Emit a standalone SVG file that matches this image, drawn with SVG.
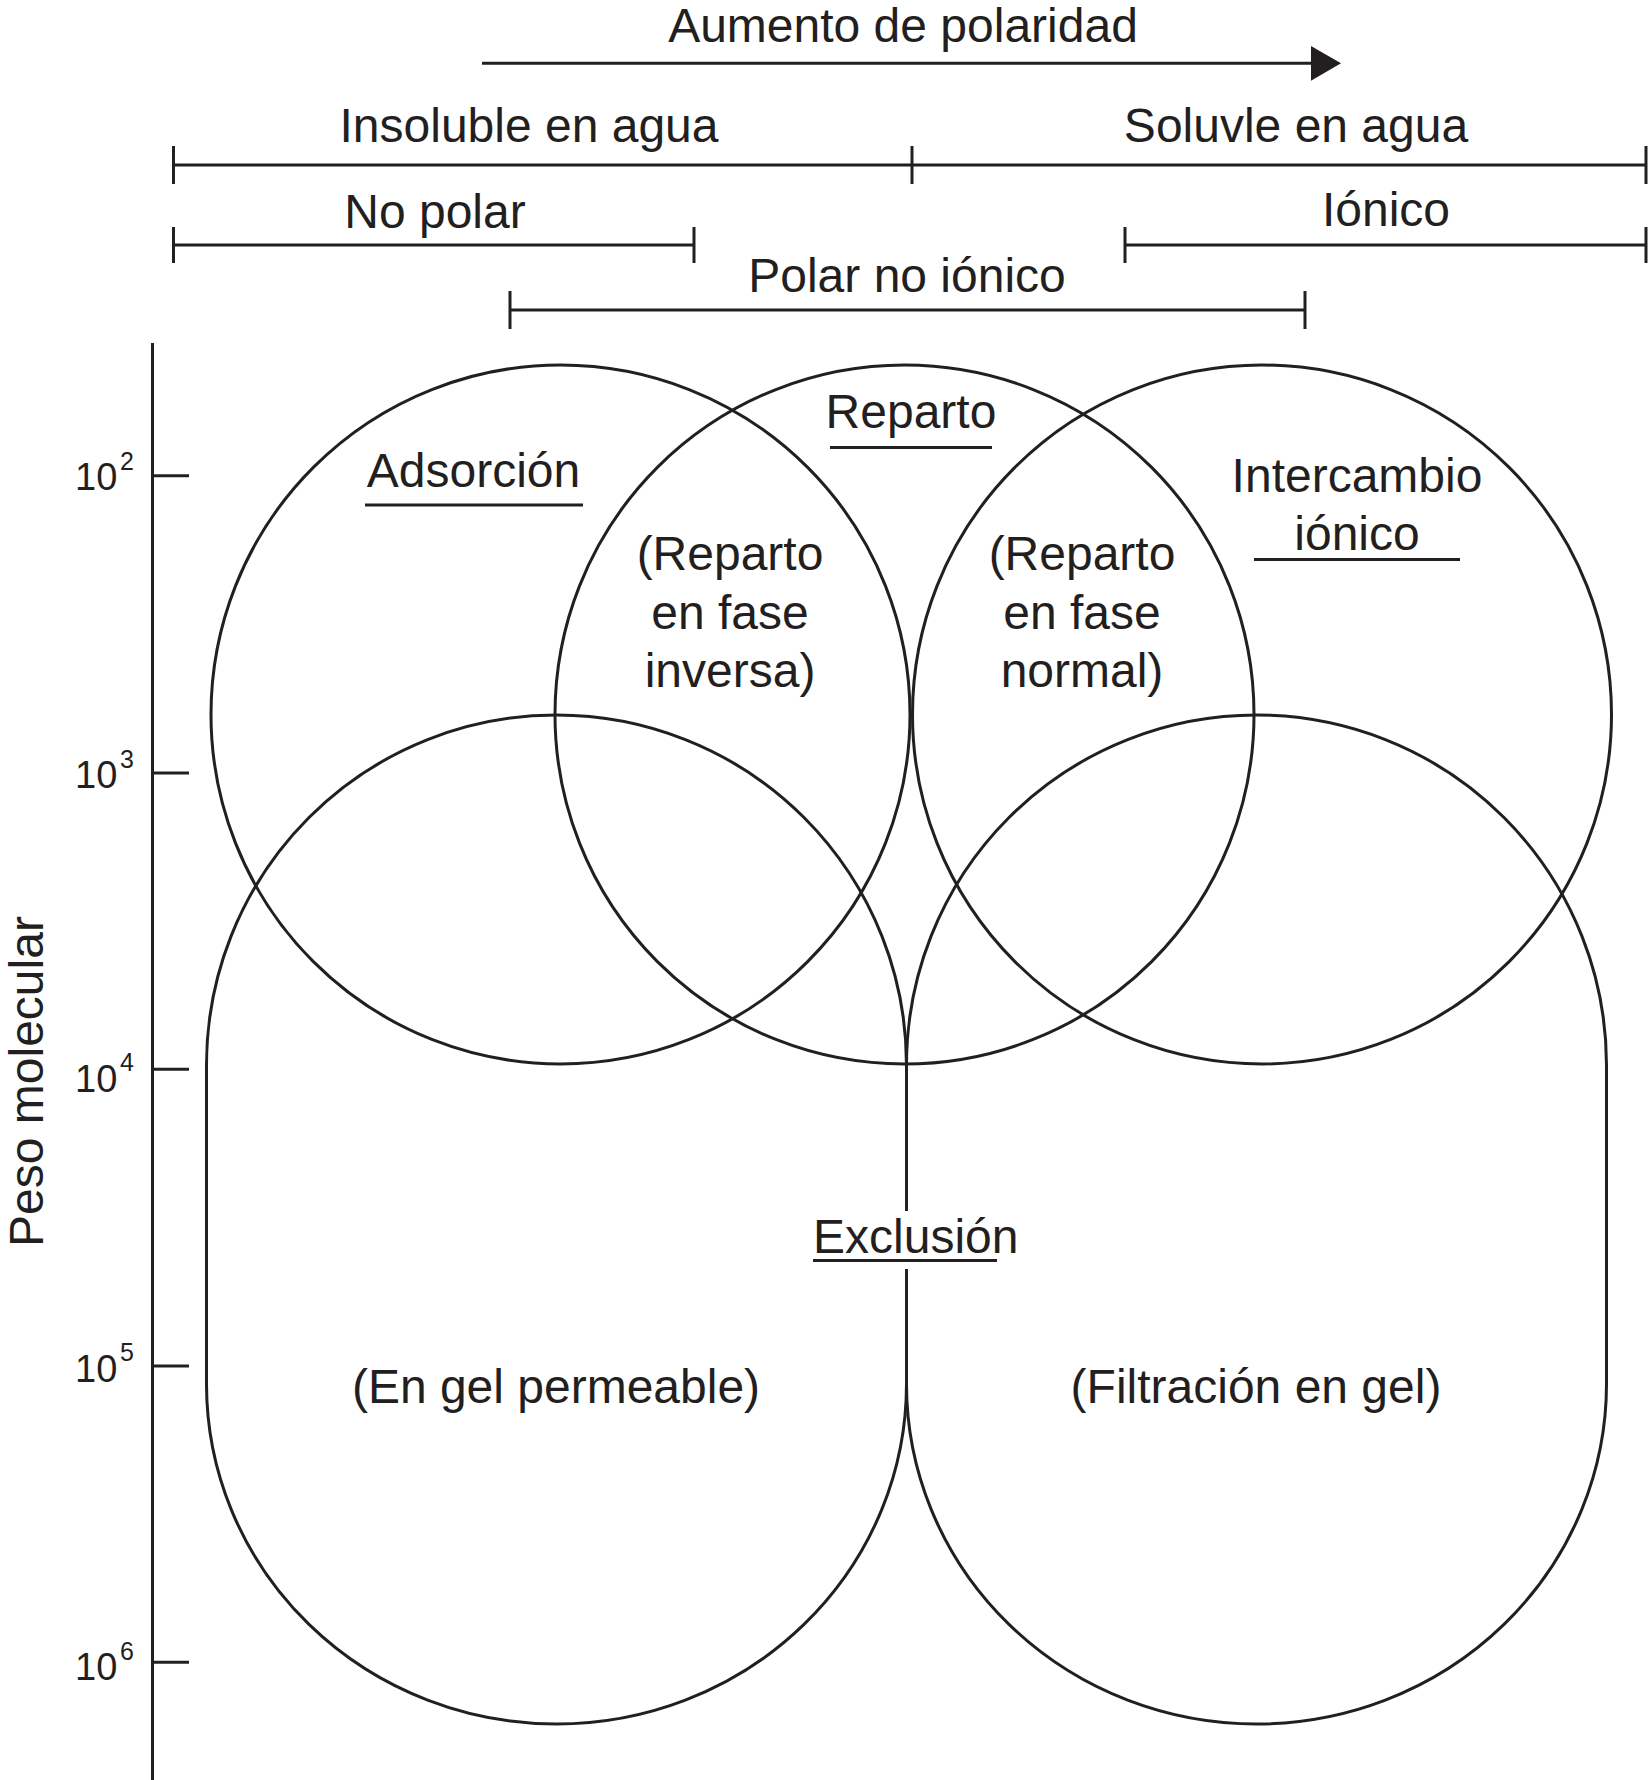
<svg xmlns="http://www.w3.org/2000/svg" width="1649" height="1780" viewBox="0 0 1649 1780">
  <style>
    text { font-family: "Liberation Sans", Arial, Helvetica, sans-serif; fill: #231f20; }
    .lbl { font-size: 48px; text-anchor: middle; }
    .tick { font-size: 38px; }
    .sup { font-size: 25px; }
    .ln { stroke: #231f20; stroke-width: 3; fill: none; }
    .shape { stroke: #231f20; stroke-width: 3; fill: none; }
    .ul { stroke: #231f20; stroke-width: 3; }
  </style>
  <rect width="1649" height="1780" fill="#ffffff"/>

  <!-- Polarity scale -->
  <g id="polarity-arrow">
    <text class="lbl" x="903" y="42">Aumento de polaridad</text>
    <line class="ln" x1="482" y1="63.3" x2="1313" y2="63.3"/>
    <polygon points="1311,46 1341,63.3 1311,80.7" fill="#231f20"/>
  </g>

  <g id="solubility-scale">
    <text class="lbl" x="529" y="142">Insoluble en agua</text>
    <text class="lbl" x="1296" y="142">Soluvle en agua</text>
    <line class="ln" x1="173.5" y1="165" x2="1646" y2="165"/>
    <line class="ln" x1="173.5" y1="146" x2="173.5" y2="184"/>
    <line class="ln" x1="912" y1="146" x2="912" y2="184"/>
    <line class="ln" x1="1646" y1="146" x2="1646" y2="184"/>
  </g>

  <g id="no-polar">
    <text class="lbl" x="435" y="228">No polar</text>
    <line class="ln" x1="173.5" y1="245" x2="694" y2="245"/>
    <line class="ln" x1="173.5" y1="227" x2="173.5" y2="263"/>
    <line class="ln" x1="694" y1="227" x2="694" y2="263"/>
  </g>

  <g id="ionico">
    <text class="lbl" x="1386" y="226">Iónico</text>
    <line class="ln" x1="1125" y1="245" x2="1646" y2="245"/>
    <line class="ln" x1="1125" y1="227" x2="1125" y2="263"/>
    <line class="ln" x1="1646" y1="227" x2="1646" y2="263"/>
  </g>

  <g id="polar-no-ionico">
    <text class="lbl" x="907" y="292">Polar no iónico</text>
    <line class="ln" x1="510" y1="310" x2="1305" y2="310"/>
    <line class="ln" x1="510" y1="291" x2="510" y2="329"/>
    <line class="ln" x1="1305" y1="291" x2="1305" y2="329"/>
  </g>

  <!-- Molecular weight axis -->
  <g id="axis">
    <line class="ln" x1="152.5" y1="343" x2="152.5" y2="1780" stroke-width="3.2"/>
    <line class="ln" x1="152.5" y1="475.7" x2="189" y2="475.7"/>
    <line class="ln" x1="152.5" y1="773" x2="189" y2="773"/>
    <line class="ln" x1="152.5" y1="1069.3" x2="189" y2="1069.3"/>
    <line class="ln" x1="152.5" y1="1366" x2="189" y2="1366"/>
    <line class="ln" x1="152.5" y1="1662.3" x2="189" y2="1662.3"/>
    <text class="tick" x="75" y="490">10<tspan class="sup" x="120" y="469.5">2</tspan></text>
    <text class="tick" x="75" y="788">10<tspan class="sup" x="120" y="767.5">3</tspan></text>
    <text class="tick" x="75" y="1091.5">10<tspan class="sup" x="120" y="1071">4</tspan></text>
    <text class="tick" x="75" y="1381.5">10<tspan class="sup" x="120" y="1361">5</tspan></text>
    <text class="tick" x="75" y="1680">10<tspan class="sup" x="120" y="1659.5">6</tspan></text>
    <text class="lbl" transform="translate(43,1081.5) rotate(-90)" x="0" y="0">Peso molecular</text>
  </g>

  <!-- Connectors group (none in this figure beyond the scales) -->
  <g id="connectors"></g>

  <!-- Method regions -->
  <g id="adsorcion">
    <circle class="shape" cx="560.5" cy="714.5" r="349.5"/>
    <text class="lbl" x="473.5" y="487">Adsorción</text>
    <line class="ul" x1="365" y1="505" x2="583" y2="505"/>
  </g>

  <g id="reparto">
    <circle class="shape" cx="904.5" cy="714.5" r="349.5"/>
    <text class="lbl" x="911" y="428">Reparto</text>
    <line class="ul" x1="830" y1="447.5" x2="992" y2="447.5"/>
  </g>

  <g id="intercambio-ionico">
    <circle class="shape" cx="1262" cy="714.5" r="349.5"/>
    <text class="lbl" x="1357" y="492">Intercambio</text>
    <text class="lbl" x="1357" y="549.5">iónico</text>
    <line class="ul" x1="1254" y1="559.5" x2="1460" y2="559.5"/>
  </g>

  <g id="reparto-fase-inversa">
    <text class="lbl" x="730" y="570">(Reparto</text>
    <text class="lbl" x="730" y="628.5">en fase</text>
    <text class="lbl" x="730" y="686.5">inversa)</text>
  </g>

  <g id="reparto-fase-normal">
    <text class="lbl" x="1082" y="570">(Reparto</text>
    <text class="lbl" x="1082" y="628.5">en fase</text>
    <text class="lbl" x="1082" y="686.5">normal)</text>
  </g>

  <g id="gel-permeable">
    <path class="shape" d="M 206.5 1065 A 350 350 0 0 1 906.5 1065 L 906.5 1384 A 350 340 0 0 1 206.5 1384 Z"/>
    <text class="lbl" x="556" y="1403">(En gel permeable)</text>
  </g>

  <g id="filtracion-gel">
    <path class="shape" d="M 906.5 1065 A 350 350 0 0 1 1606.5 1065 L 1606.5 1384 A 350 340 0 0 1 906.5 1384 Z"/>
    <text class="lbl" x="1256" y="1403">(Filtración en gel)</text>
  </g>

  <g id="exclusion">
    <rect x="880" y="1211" width="55" height="58" fill="#ffffff"/>
    <text class="lbl" x="813" y="1253" style="text-anchor:start">Exclusión</text>
    <line class="ul" x1="813" y1="1260.5" x2="997" y2="1260.5"/>
  </g>
</svg>
